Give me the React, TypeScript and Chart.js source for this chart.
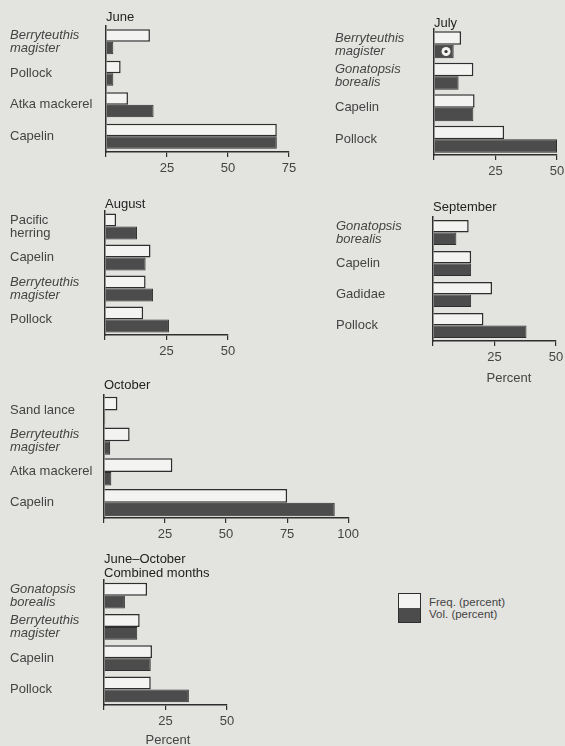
import React, { useEffect, useRef } from 'react';
import { Chart, registerables } from 'chart.js';
Chart.register(...registerables);

// ---------------- data ----------------
const juneLabels = [['Berryteuthis', 'magister'], 'Pollock', 'Atka mackerel', 'Capelin'];
const juneItalic = [true, false, false, false];
const juneFreq = [18, 6, 9, 70];
const juneVol = [3, 3, 19.5, 70];

const julyLabels = [['Berryteuthis', 'magister'], ['Gonatopsis', 'borealis'], 'Capelin', 'Pollock'];
const julyItalic = [true, true, false, false];
const julyFreq = [11, 16, 16.5, 28.5];
const julyVol = [8, 10, 16, 50];

const augLabels = [['Pacific', 'herring'], 'Capelin', ['Berryteuthis', 'magister'], 'Pollock'];
const augItalic = [false, false, true, false];
const augFreq = [4.5, 18.5, 16.5, 15.5];
const augVol = [13, 16.5, 19.5, 26];

const sepLabels = [['Gonatopsis', 'borealis'], 'Capelin', 'Gadidae', 'Pollock'];
const sepItalic = [true, false, false, false];
const sepFreq = [14.5, 15.5, 24, 20.5];
const sepVol = [9.5, 15.5, 15.5, 38];

const octLabels = ['Sand lance', ['Berryteuthis', 'magister'], 'Atka mackerel', 'Capelin'];
const octItalic = [false, true, false, false];
const octFreq = [5.5, 10.5, 28, 75];
const octVol = [0.5, 2.5, 3, 94.5];

const combLabels = [['Gonatopsis', 'borealis'], ['Berryteuthis', 'magister'], 'Capelin', 'Pollock'];
const combItalic = [true, true, false, false];
const combFreq = [17.5, 14.5, 19.5, 19];
const combVol = [8.5, 13.5, 19, 34.5];

const seriesNames = ['Freq. (percent)', 'Vol. (percent)'];

// ---------------- styles ----------------
const BG = '#e3e3e0';
const INK = '#2e2e2e';
const FREQ_FILL = '#f3f3f1';
const VOL_FILL = '#4c4c4c';
const LABEL_COLOR = '#444';
const TITLE_COLOR = '#222';
const FONT = "'Liberation Sans', Arial, sans-serif";

type Spec = {
  labels: (string | string[])[];
  italic: boolean[];
  freq: number[];
  vol: number[];
  max: number;
  labelX: number;
  ox: number;
  ex: number;
  plotTop: number;
  axisY: number;
  title: string[];
  titleY: number[];
  percent?: { x: number; y: number };
  catPct: number;
  marker?: number;
};

const panels: Spec[] = [
  { labels: juneLabels, italic: juneItalic, freq: juneFreq, vol: juneVol, max: 75,
    labelX: 10, ox: 106, ex: 289, plotTop: 26, axisY: 152, title: ['June'], titleY: [17], catPct: 0.8 },
  { labels: julyLabels, italic: julyItalic, freq: julyFreq, vol: julyVol, max: 50,
    labelX: 335, ox: 434, ex: 557, plotTop: 29, axisY: 155, title: ['July'], titleY: [23], catPct: 0.86, marker: 0 },
  { labels: augLabels, italic: augItalic, freq: augFreq, vol: augVol, max: 50,
    labelX: 10, ox: 105, ex: 228, plotTop: 211, axisY: 335, title: ['August'], titleY: [204], catPct: 0.84 },
  { labels: sepLabels, italic: sepItalic, freq: sepFreq, vol: sepVol, max: 50,
    labelX: 336, ox: 433, ex: 556, plotTop: 217, axisY: 341, title: ['September'], titleY: [207],
    percent: { x: 509, y: 378 }, catPct: 0.8 },
  { labels: octLabels, italic: octItalic, freq: octFreq, vol: octVol, max: 100,
    labelX: 10, ox: 104, ex: 349, plotTop: 395, axisY: 518, title: ['October'], titleY: [385], catPct: 0.88 },
  { labels: combLabels, italic: combItalic, freq: combFreq, vol: combVol, max: 50,
    labelX: 10, ox: 104, ex: 227, plotTop: 580, axisY: 705, title: ['June\u2013October', 'Combined months'],
    titleY: [559, 573], percent: { x: 168, y: 740 }, catPct: 0.82 },
];

const panelTextPlugin = {
  id: 'panelText',
  afterDatasetsDraw(chart: any, _a: any, opts: any) {
    if (opts.marker == null) return;
    const el = chart.getDatasetMeta(1).data[opts.marker];
    if (!el) return;
    const { x, y, base } = el.getProps(['x', 'y', 'base'], true);
    const cx = base + (x - base) * 0.6;
    const ctx = chart.ctx;
    ctx.save();
    ctx.beginPath();
    ctx.arc(cx, y, 4.5, 0, Math.PI * 2);
    ctx.fillStyle = '#f3f3f1';
    ctx.fill();
    ctx.beginPath();
    ctx.arc(cx, y, 1.6, 0, Math.PI * 2);
    ctx.fillStyle = INK;
    ctx.fill();
    ctx.restore();
  },
  afterDraw(chart: any, _a: any, opts: any) {
    const ctx = chart.ctx;
    (opts.items || []).forEach((it: any) => {
      ctx.save();
      ctx.font = it.font;
      ctx.fillStyle = it.color;
      ctx.textAlign = it.align;
      ctx.textBaseline = 'middle';
      ctx.fillText(it.text, it.x, it.y);
      ctx.restore();
    });
  },
};

function Panel({ spec }: { spec: Spec }) {
  const ref = useRef<HTMLCanvasElement>(null);
  const left = spec.labelX;
  const top = spec.titleY[0] - 10;
  const bottom = spec.percent ? spec.percent.y + 9 : spec.axisY + 26;
  const width = spec.ex + 14 - left;
  const height = bottom - top;

  useEffect(() => {
    if (!ref.current) return;
    const items: any[] = spec.title.map((t, k) => ({
      text: t, x: spec.ox - left, y: spec.titleY[k] - top,
      font: `13px ${FONT}`, color: TITLE_COLOR, align: 'left',
    }));
    if (spec.percent) {
      items.push({ text: 'Percent', x: spec.percent.x - left, y: spec.percent.y - top,
        font: `13px ${FONT}`, color: LABEL_COLOR, align: 'center' });
    }
    const chart = new Chart(ref.current, {
      type: 'bar',
      data: {
        labels: spec.labels as any,
        datasets: [
          { label: seriesNames[0], data: spec.freq, backgroundColor: FREQ_FILL, borderColor: INK,
            borderWidth: 1.5, categoryPercentage: spec.catPct, barPercentage: 1 },
          { label: seriesNames[1], data: spec.vol, backgroundColor: VOL_FILL, borderColor: INK,
            borderWidth: 1, categoryPercentage: spec.catPct, barPercentage: 1 },
        ],
      },
      options: {
        indexAxis: 'y',
        responsive: false,
        animation: false,
        layout: { padding: { left: 0, top: spec.plotTop - top, right: 14, bottom: 0 } },
        plugins: {
          legend: { display: false },
          tooltip: { enabled: false },
          panelText: { items, marker: spec.marker },
        } as any,
        scales: {
          x: {
            type: 'linear',
            min: 0,
            max: spec.max,
            ticks: {
              stepSize: 25,
              autoSkip: false,
              maxRotation: 0,
              padding: 4,
              color: LABEL_COLOR,
              font: { family: FONT, size: 13 },
              callback: (v: any) => (Number(v) === 0 ? '' : String(v)),
            },
            grid: { display: true, drawOnChartArea: false, drawTicks: true, tickLength: 5, color: INK, lineWidth: 1.2 },
            border: { display: true, color: INK, width: 1.5 },
            afterFit: (s: any) => { s.height = bottom - spec.axisY; },
          },
          y: {
            ticks: {
              crossAlign: 'far',
              autoSkip: false,
              padding: 4,
              color: LABEL_COLOR,
              font: (ctx: any) => ({
                family: FONT, size: 13, lineHeight: 1.0,
                style: spec.italic[ctx.index] ? 'italic' : 'normal',
              }),
            },
            grid: { display: true, drawOnChartArea: false, drawTicks: false },
            border: { display: true, color: INK, width: 1.5 },
            afterFit: (s: any) => { s.width = spec.ox - left; },
          },
        } as any,
      },
      plugins: [panelTextPlugin as any],
    });
    return () => chart.destroy();
  }, []);

  return (
    <canvas
      ref={ref}
      width={width}
      height={height}
      style={{ position: 'absolute', left, top, width, height }}
    />
  );
}

function Legend() {
  return (
    <>
      <div style={{ position: 'absolute', left: 398, top: 593, width: 23, height: 30,
        border: `1.5px solid ${INK}`, boxSizing: 'border-box', background: FREQ_FILL }}>
        <div style={{ position: 'absolute', left: 0, right: 0, bottom: 0, height: 14, background: VOL_FILL }} />
      </div>
      <div style={{ position: 'absolute', left: 429, top: 596, fontSize: 11.5, lineHeight: '13px',
        color: LABEL_COLOR, fontFamily: FONT, whiteSpace: 'nowrap' }}>{seriesNames[0]}</div>
      <div style={{ position: 'absolute', left: 429, top: 608, fontSize: 11.5, lineHeight: '13px',
        color: LABEL_COLOR, fontFamily: FONT, whiteSpace: 'nowrap' }}>{seriesNames[1]}</div>
    </>
  );
}

export default function App() {
  return (
    <div style={{ position: 'absolute', left: 0, top: 0, width: 565, height: 746, overflow: 'hidden',
      background: BG, fontFamily: FONT }}>
      {panels.map((p, i) => <Panel key={i} spec={p} />)}
      <Legend />
    </div>
  );
}
